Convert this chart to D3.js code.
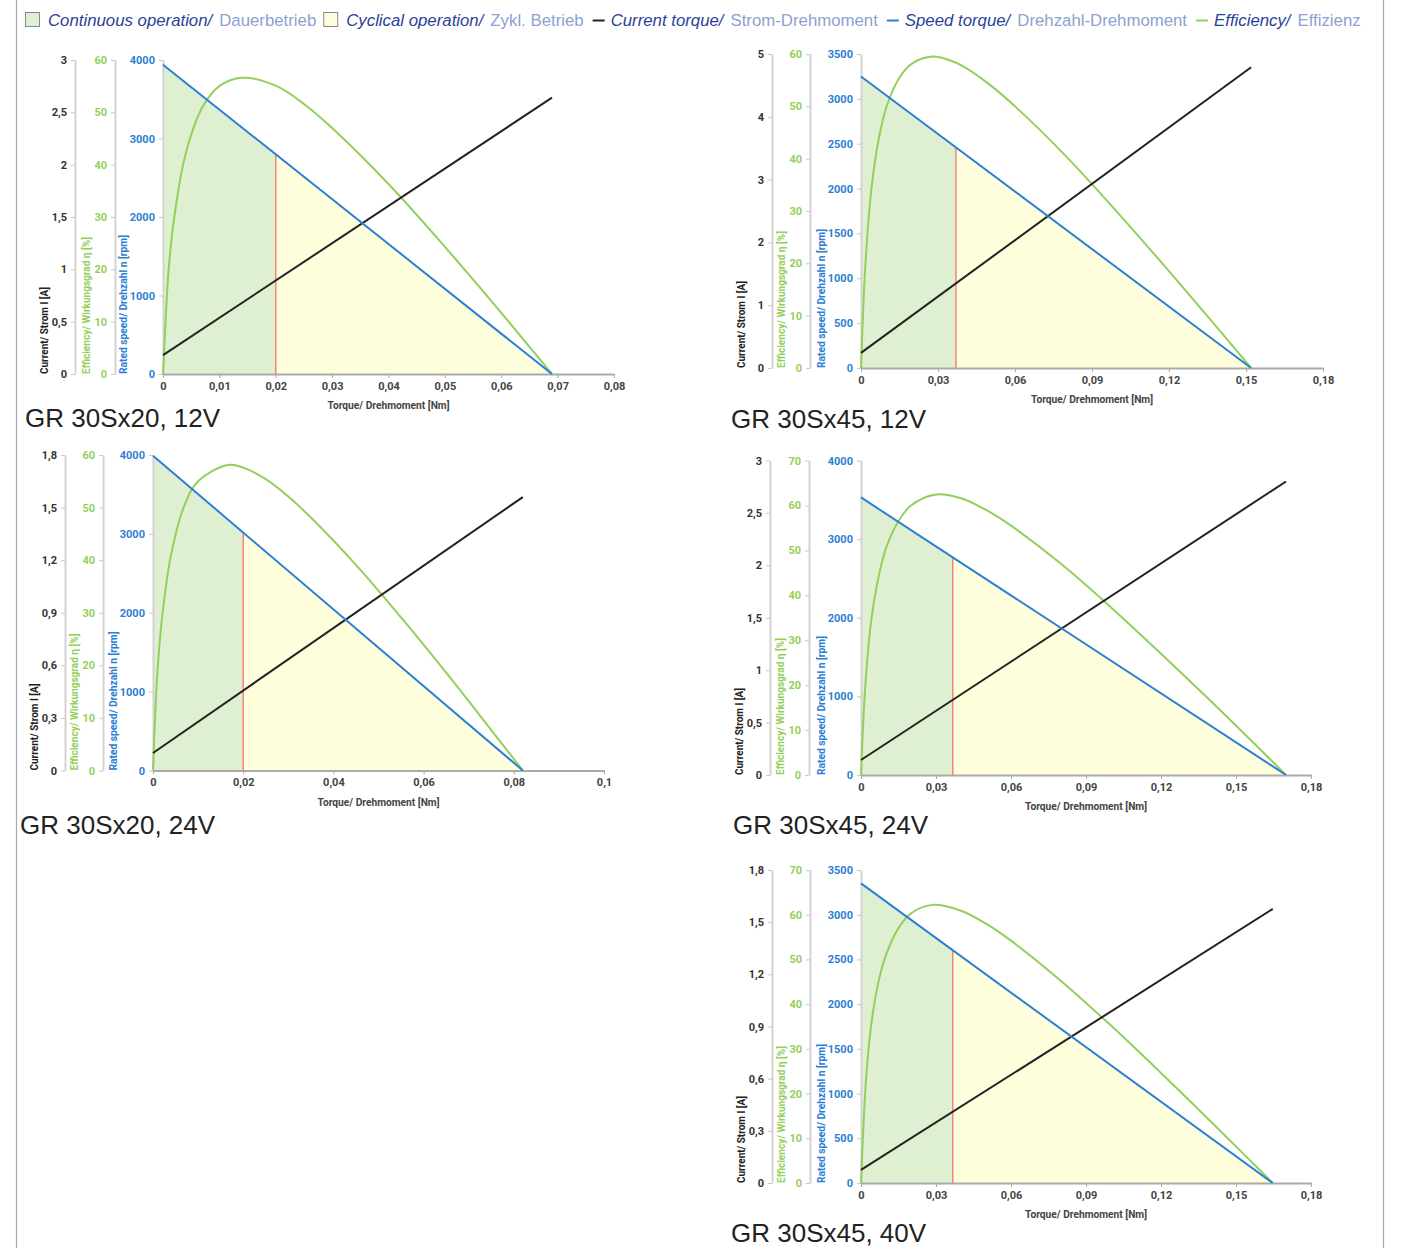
<!DOCTYPE html>
<html>
<head>
<meta charset="utf-8">
<script src="https://cdn.jsdelivr.net/npm/d3@7"></script>
<style>
  body { margin: 0; background: #fff; }
  svg text { font-family: Roboto, "DejaVu Sans Condensed", sans-serif; }
</style>
</head>
<body>
<svg id="chart" width="1413" height="1248"></svg>
<script>
// one entry per motor chart
var titles = ["GR 30Sx20, 12V", "GR 30Sx45, 12V", "GR 30Sx20, 24V", "GR 30Sx45, 24V", "GR 30Sx45, 40V"];

// axis ranges and tick steps
var torqueMax   = [0.08, 0.18, 0.1, 0.18, 0.18];
var torqueStep  = [0.01, 0.03, 0.02, 0.03, 0.03];
var currentMax  = [3, 5, 1.8, 3, 1.8];
var currentStep = [0.5, 1, 0.3, 0.5, 0.3];
var effMax      = [60, 60, 60, 70, 70];
var speedMax    = [4000, 3500, 4000, 4000, 3500];
var speedStep   = [1000, 500, 1000, 1000, 500];

// speed-torque line (speed at 0 Nm down to 0 rpm at stall torque)
var noLoadSpeed = [3940, 3250, 3990, 3530, 3350];
var stallTorque = [0.069, 0.152, 0.082, 0.17, 0.1647];
// current-torque line (current at 0 Nm and at stall torque)
var currentStart = [0.18, 0.24, 0.1, 0.143, 0.075];
var currentEnd   = [2.64, 4.79, 1.56, 2.80, 1.576];
// limit of continuous operation
var contTorque = [0.02, 0.037, 0.02, 0.0367, 0.0367];

// efficiency curves
var eff1T = [0, 0.0005, 0.001, 0.002, 0.004, 0.007, 0.01, 0.014, 0.02, 0.025, 0.03, 0.04, 0.05, 0.06, 0.065, 0.069];
var eff1  = [0, 11, 20, 30, 42, 51, 55, 56.6, 55.1, 51.6, 47, 36.3, 24.3, 11.7, 5.2, 0];
var eff2T = [0, 0.001, 0.002, 0.004, 0.007, 0.01, 0.015, 0.02, 0.028, 0.034, 0.04, 0.05, 0.06, 0.08, 0.1, 0.12, 0.14, 0.152];
var eff2  = [0, 13, 22, 34, 44, 50, 55.5, 58.2, 59.5, 58.9, 57.6, 54.2, 50, 40.4, 29.7, 18.5, 7, 0];
var eff3T = [0, 0.0005, 0.001, 0.002, 0.004, 0.007, 0.01, 0.0166, 0.02, 0.025, 0.03, 0.035, 0.045, 0.055, 0.065, 0.075, 0.082];
var eff3  = [0, 11, 19, 29, 41, 50.5, 55, 58.1, 57.6, 55.4, 52.1, 48.1, 39.1, 29.1, 18.6, 7.7, 0];
var eff4T = [0, 0.001, 0.002, 0.004, 0.007, 0.01, 0.015, 0.02, 0.0296, 0.04, 0.05, 0.06, 0.08, 0.1, 0.12, 0.14, 0.16, 0.17];
var eff4  = [0, 13, 22, 34, 44, 50.5, 56.5, 60, 62.4, 61.6, 59, 55.5, 47, 37.3, 27, 16.4, 5.5, 0];
var eff5T = [0, 0.001, 0.002, 0.004, 0.007, 0.01, 0.015, 0.02, 0.0284, 0.04, 0.05, 0.06, 0.08, 0.1, 0.12, 0.14, 0.155, 0.1647];
var eff5  = [0, 13, 23, 35, 45, 51, 57, 60.3, 62.2, 60.9, 58, 54.2, 45.2, 35.2, 24.6, 13.7, 5.4, 0];
var effT = [eff1T, eff2T, eff3T, eff4T, eff5T];
var effV = [eff1, eff2, eff3, eff4, eff5];

// where each chart sits on the page
var layout = [
  {x0: 163, x1: 614,  top: 60,    bot: 374,   cur: 75,  eff: 115, capX: 25,  capY: 427},
  {x0: 861, x1: 1323, top: 54,    bot: 368,   cur: 772, eff: 810, capX: 731, capY: 428},
  {x0: 153, x1: 604,  top: 455,   bot: 770.5, cur: 65,  eff: 103, capX: 20,  capY: 834},
  {x0: 861, x1: 1311, top: 460.5, bot: 775,   cur: 770, eff: 809, capX: 733, capY: 834},
  {x0: 861, x1: 1311, top: 870,   bot: 1183,  cur: 772, eff: 810, capX: 731, capY: 1242}
];

var cBlue = "#2c80d3", cGreen = "#93cf5a", cBlack = "#222", cRed = "#f4837d";
var fillGreen = "#dff0d2", fillYellow = "#fefedd";
var darkText = "#2b3f99", lightText = "#8da2d0";

var de = d3.formatLocale({decimal: ",", thousands: ".", grouping: [3], currency: ["", "€"]});
var fmt = de.format("~g");

var svg = d3.select("#chart");

// frame
svg.append("line").attr("x1", 16.5).attr("x2", 16.5).attr("y1", 0).attr("y2", 1248)
   .style("stroke", "#aaa").style("stroke-width", 1.2);
svg.append("line").attr("x1", 1383.5).attr("x2", 1383.5).attr("y1", 0).attr("y2", 1248)
   .style("stroke", "#aaa").style("stroke-width", 1.2);

// legend
var legendItems = [
  {box: fillGreen}, {t: "Continuous operation/", c: darkText, i: true}, {t: " Dauerbetrieb", c: lightText},
  {box: fillYellow}, {t: "Cyclical operation/", c: darkText, i: true}, {t: " Zykl. Betrieb", c: lightText},
  {dash: cBlack}, {t: "Current torque/", c: darkText, i: true}, {t: " Strom-Drehmoment", c: lightText},
  {dash: cBlue}, {t: "Speed torque/", c: darkText, i: true}, {t: " Drehzahl-Drehmoment", c: lightText},
  {dash: cGreen}, {t: "Efficiency/", c: darkText, i: true}, {t: " Effizienz", c: lightText}
];
var lx = 25;
legendItems.forEach(function(it){
  if (it.box) {
    svg.append("rect").attr("x", lx + 0.5).attr("y", 12.5).attr("width", 14).attr("height", 14)
       .style("fill", it.box).style("stroke", "#888").style("stroke-width", 1);
    lx += 23;
  } else if (it.dash) {
    svg.append("line").attr("x1", lx + 2).attr("x2", lx + 14).attr("y1", 20.5).attr("y2", 20.5)
       .style("stroke", it.dash).style("stroke-width", 2);
    lx += 20;
  } else {
    var t = svg.append("text").attr("x", lx).attr("y", 26)
       .style("font-family", "'Liberation Sans', Arial, sans-serif")
       .style("font-size", "16.8px").style("fill", it.c)
       .style("font-style", it.i ? "italic" : "normal")
       .text(it.t);
    lx += t.node().getComputedTextLength() + 7;
  }
});

function stepTicks(max, step) {
  var out = [];
  for (var i = 0; i * step <= max + 1e-9; i++) out.push(+(i * step).toFixed(4));
  return out;
}

function styleAxis(g, color) {
  g.select(".domain").style("stroke", "#d3d3d3").style("stroke-width", 2);
  g.selectAll(".tick line").style("stroke", "#c8c8c8");
  g.selectAll(".tick text").style("fill", color).style("font-size", "11px").style("font-weight", "bold");
}

titles.forEach(function(title, k){
  var L = layout[k];
  var g = svg.append("g");

  var x = d3.scaleLinear().domain([0, torqueMax[k]]).range([L.x0, L.x1]);
  var yI = d3.scaleLinear().domain([0, currentMax[k]]).range([L.bot, L.top]);
  var yE = d3.scaleLinear().domain([0, effMax[k]]).range([L.bot, L.top]);
  var yN = d3.scaleLinear().domain([0, speedMax[k]]).range([L.bot, L.top]);

  // speed at a given torque, on the straight speed-torque line
  var speedAt = d3.scaleLinear().domain([0, stallTorque[k]]).range([noLoadSpeed[k], 0]);

  // operating areas under the speed line
  var area = d3.area().x(function(d){ return x(d); }).y0(L.bot).y1(function(d){ return yN(speedAt(d)); });
  g.append("path").datum([0, contTorque[k]]).attr("d", area).style("fill", fillGreen);
  g.append("path").datum([contTorque[k], stallTorque[k]]).attr("d", area).style("fill", fillYellow);

  // axes
  var axI = g.append("g").attr("transform", "translate(" + L.cur + ",0)")
    .call(d3.axisLeft(yI).tickValues(stepTicks(currentMax[k], currentStep[k])).tickFormat(fmt).tickSize(4).tickSizeOuter(0).tickPadding(4));
  styleAxis(axI, "#333");
  var axE = g.append("g").attr("transform", "translate(" + L.eff + ",0)")
    .call(d3.axisLeft(yE).tickValues(stepTicks(effMax[k], 10)).tickFormat(fmt).tickSize(4).tickSizeOuter(0).tickPadding(4));
  styleAxis(axE, cGreen);
  var axN = g.append("g").attr("transform", "translate(" + L.x0 + ",0)")
    .call(d3.axisLeft(yN).tickValues(stepTicks(speedMax[k], speedStep[k])).tickFormat(fmt).tickSize(4).tickSizeOuter(0).tickPadding(4));
  styleAxis(axN, cBlue);
  var axT = g.append("g").attr("transform", "translate(0," + L.bot + ")")
    .call(d3.axisBottom(x).tickValues(stepTicks(torqueMax[k], torqueStep[k])).tickFormat(fmt).tickSize(4).tickSizeOuter(0).tickPadding(4));
  styleAxis(axT, "#444");
  axT.select(".domain").style("stroke", "#aaa");
  axT.selectAll(".tick line").style("stroke", "#aaa");

  // axis titles (condensed to the reference length)
  var yTitle = function(cx, txt, color, len){
    g.append("text").attr("transform", "translate(" + cx + "," + L.bot + ") rotate(-90)")
      .attr("dy", "0.35em").attr("textLength", len).attr("lengthAdjust", "spacingAndGlyphs")
      .style("font-size", "10px").style("font-weight", "bold")
      .style("fill", color).text(txt);
  };
  yTitle(L.cur - 31, "Current/ Strom I [A]", "#222", 87);
  yTitle(L.eff - 29, "Efficiency/ Wirkungsgrad η [%]", cGreen, 137);
  yTitle(L.x0 - 40, "Rated speed/ Drehzahl n [rpm]", cBlue, 139);
  g.append("text").attr("x", (L.x0 + L.x1) / 2 - 61).attr("y", L.bot + 35)
    .attr("textLength", 122).attr("lengthAdjust", "spacingAndGlyphs")
    .style("font-size", "11px").style("font-weight", "bold")
    .style("fill", "#444").text("Torque/ Drehmoment [Nm]");

  // continuous operation limit
  g.append("line").attr("x1", x(contTorque[k])).attr("x2", x(contTorque[k]))
    .attr("y1", L.bot).attr("y2", yN(speedAt(contTorque[k])))
    .style("stroke", cRed).style("stroke-width", 1.5);

  // efficiency curve
  var effPts = effT[k].map(function(t, i){ return [t, effV[k][i]]; });
  g.append("path").datum(effPts)
    .attr("d", d3.line().x(function(d){ return x(d[0]); }).y(function(d){ return yE(d[1]); }).curve(d3.curveCatmullRom.alpha(0.5)))
    .style("fill", "none").style("stroke", cGreen).style("stroke-width", 2);

  // current line
  g.append("path").datum([[0, currentStart[k]], [stallTorque[k], currentEnd[k]]])
    .attr("d", d3.line().x(function(d){ return x(d[0]); }).y(function(d){ return yI(d[1]); }))
    .style("fill", "none").style("stroke", cBlack).style("stroke-width", 2);

  // speed line
  g.append("path").datum([0, stallTorque[k]])
    .attr("d", d3.line().x(function(d){ return x(d); }).y(function(d){ return yN(speedAt(d)); }))
    .style("fill", "none").style("stroke", cBlue).style("stroke-width", 2);

  // caption
  g.append("text").attr("x", L.capX).attr("y", L.capY)
    .style("font-family", "'Liberation Sans', Arial, sans-serif").style("font-size", "26px")
    .style("fill", "#222").text(title);
});
</script>
</body>
</html>
